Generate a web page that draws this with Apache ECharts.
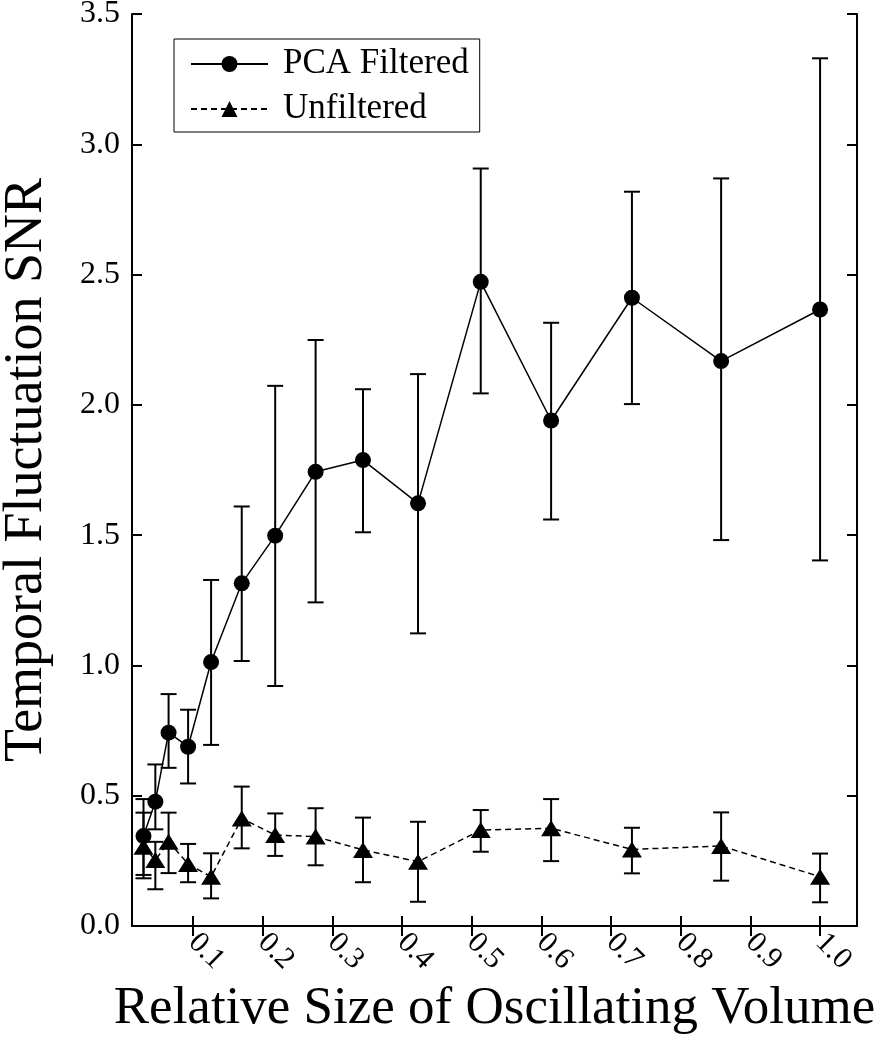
<!DOCTYPE html>
<html>
<head>
<meta charset="utf-8">
<script src="https://cdn.jsdelivr.net/npm/echarts@6/dist/echarts.min.js"></script>
<style>
  html, body { margin: 0; padding: 0; background: #fff; }
  #chart { width: 887px; height: 1050px; }
</style>
</head>
<body>
<div id="chart"></div>
<script>
// relative size of oscillating volume
const xVals = [0.029, 0.046, 0.065, 0.093, 0.126, 0.170, 0.218, 0.276, 0.344, 0.423, 0.513, 0.614, 0.730, 0.858, 1.000];
// PCA filtered: mean and error bar ends
const pcaMean = [0.345, 0.477, 0.742, 0.688, 1.013, 1.315, 1.498, 1.743, 1.788, 1.622, 2.472, 1.940, 2.411, 2.168, 2.366];
const pcaLow  = [0.196, 0.371, 0.607, 0.547, 0.695, 1.017, 0.921, 1.242, 1.511, 1.123, 2.044, 1.560, 2.003, 1.481, 1.403];
const pcaHigh = [0.487, 0.620, 0.890, 0.830, 1.328, 1.610, 2.073, 2.249, 2.060, 2.118, 2.907, 2.315, 2.818, 2.869, 3.330];
// unfiltered
const unfMean = [0.304, 0.253, 0.323, 0.238, 0.189, 0.413, 0.349, 0.343, 0.292, 0.247, 0.368, 0.375, 0.294, 0.307, 0.189];
const unfLow  = [0.183, 0.141, 0.203, 0.168, 0.106, 0.298, 0.269, 0.233, 0.168, 0.093, 0.285, 0.249, 0.202, 0.174, 0.091];
const unfHigh = [0.435, 0.323, 0.435, 0.315, 0.279, 0.535, 0.432, 0.452, 0.416, 0.400, 0.445, 0.487, 0.377, 0.436, 0.278];
// tick labels
const xTicks = [0.1, 0.2, 0.3, 0.4, 0.5, 0.6, 0.7, 0.8, 0.9, 1.0];

const FONT = '"Liberation Serif", "DejaVu Serif", serif';

function pairs(ys) {
  return xVals.map((x, i) => [x, ys[i]]);
}
function bars(lo, hi) {
  return xVals.map((x, i) => [x, lo[i], hi[i]]);
}

// error bars: vertical line with caps
function errorBar(params, api) {
  const x = api.value(0);
  const lo = api.coord([x, api.value(1)]);
  const hi = api.coord([x, api.value(2)]);
  const half = 8;
  const st = { stroke: '#000', lineWidth: 2 };
  return {
    type: 'group',
    children: [
      { type: 'line', shape: { x1: lo[0], y1: lo[1], x2: hi[0], y2: hi[1] }, style: st },
      { type: 'line', shape: { x1: lo[0] - half, y1: lo[1], x2: lo[0] + half, y2: lo[1] }, style: st },
      { type: 'line', shape: { x1: hi[0] - half, y1: hi[1], x2: hi[0] + half, y2: hi[1] }, style: st }
    ]
  };
}

const axisLine = { show: true, lineStyle: { color: '#000', width: 2 } };
const tickStyle = { color: '#000', width: 2 };

const option = {
  animation: false,
  backgroundColor: '#fff',
  grid: { left: 132, right: 30, top: 14, bottom: 124, outerBoundsMode: 'none', containLabel: false },
  legend: {
    orient: 'vertical',
    left: 174,
    top: 39,
    padding: [7, 11, 5, 16],
    itemGap: 9,
    itemWidth: 77,
    itemHeight: 20,
    borderColor: '#000',
    borderWidth: 1,
    textStyle: { fontFamily: FONT, fontSize: 35, color: '#000', lineHeight: 36, padding: [0, 0, 0, 10] },
    data: ['PCA Filtered', 'Unfiltered']
  },
  xAxis: [
    {
      type: 'value',
      min: 0.0125,
      max: 1.053,
      position: 'bottom',
      axisLine: axisLine,
      axisTick: { inside: true, length: 10, customValues: xTicks, lineStyle: tickStyle },
      axisLabel: {
        customValues: xTicks,
        rotate: -45,
        margin: 12,
        formatter: v => v.toFixed(1),
        fontFamily: FONT,
        fontSize: 30,
        color: '#000'
      },
      splitLine: { show: false },
      name: 'Relative Size of Oscillating Volume',
      nameLocation: 'middle',
      nameGap: 54,
      nameTextStyle: { fontFamily: FONT, fontSize: 53, color: '#000' }
    },
    {
      type: 'value',
      min: 0.0125,
      max: 1.053,
      position: 'top',
      axisLine: axisLine,
      axisTick: { inside: true, length: 10, customValues: xTicks, lineStyle: tickStyle },
      axisLabel: { show: false },
      splitLine: { show: false }
    }
  ],
  yAxis: [
    {
      type: 'value',
      min: 0,
      max: 3.5,
      interval: 0.5,
      position: 'left',
      axisLine: axisLine,
      axisTick: { inside: true, length: 10, lineStyle: tickStyle },
      axisLabel: {
        margin: 12,
        formatter: v => v.toFixed(1),
        fontFamily: FONT,
        fontSize: 32,
        color: '#000'
      },
      splitLine: { show: false },
      name: 'Temporal Fluctuation SNR',
      nameLocation: 'middle',
      nameGap: 78,
      nameTextStyle: { fontFamily: FONT, fontSize: 54, color: '#000' }
    },
    {
      type: 'value',
      min: 0,
      max: 3.5,
      interval: 0.5,
      position: 'right',
      axisLine: axisLine,
      axisTick: { inside: true, length: 10, lineStyle: tickStyle },
      axisLabel: { show: false },
      splitLine: { show: false }
    }
  ],
  series: [
    {
      name: 'PCA Filtered',
      type: 'line',
      z: 3,
      data: pairs(pcaMean),
      symbol: 'circle',
      symbolSize: 16,
      itemStyle: { color: '#000' },
      lineStyle: { color: '#000', width: 1.5, type: 'solid' }
    },
    {
      name: 'Unfiltered',
      type: 'line',
      z: 3,
      data: pairs(unfMean),
      symbol: 'triangle',
      symbolSize: [20, 16],
      itemStyle: { color: '#000' },
      lineStyle: { color: '#000', width: 1.5, type: [6, 4] }
    },
    {
      type: 'custom',
      z: 2,
      renderItem: errorBar,
      encode: { x: 0, y: [1, 2] },
      data: bars(pcaLow, pcaHigh)
    },
    {
      type: 'custom',
      z: 2,
      renderItem: errorBar,
      encode: { x: 0, y: [1, 2] },
      data: bars(unfLow, unfHigh)
    }
  ]
};

const myChart = echarts.init(document.getElementById('chart'));
myChart.setOption(option);
</script>
</body>
</html>
